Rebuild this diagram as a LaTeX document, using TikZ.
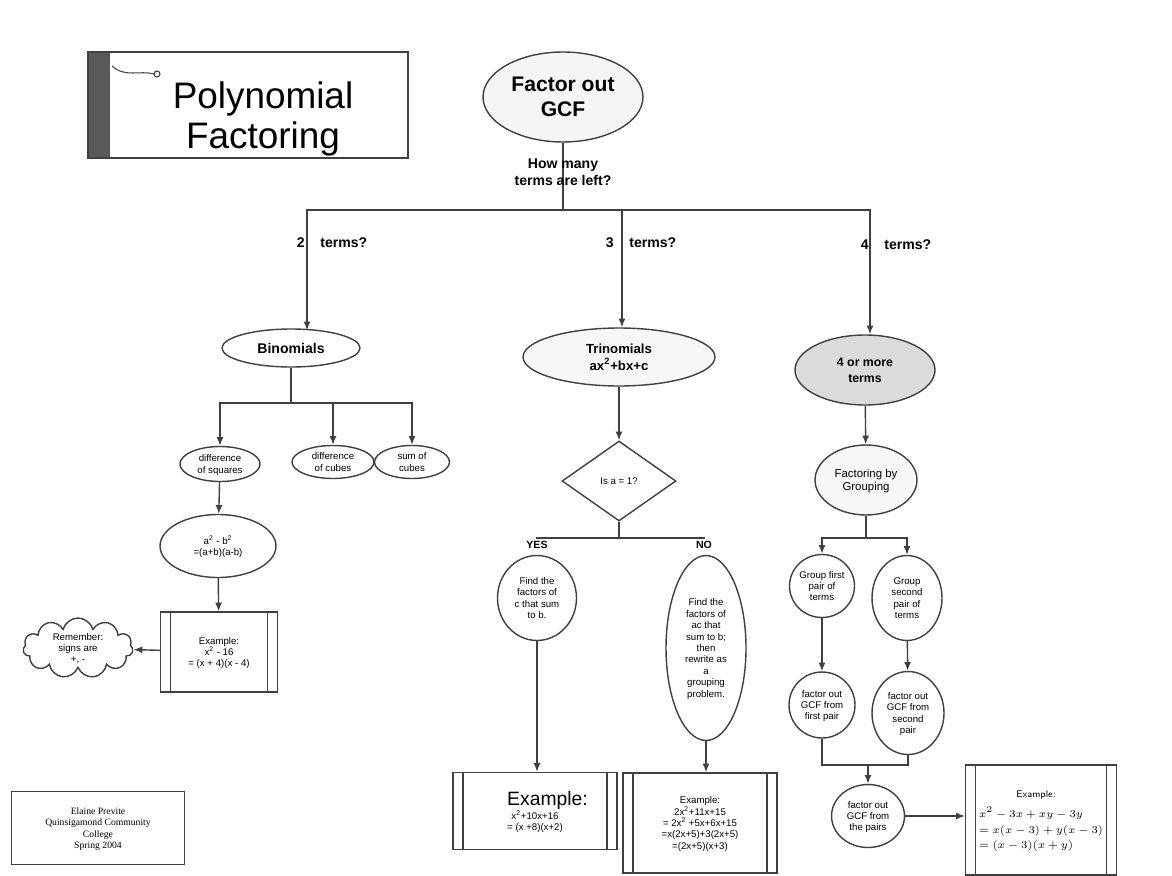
\documentclass[tikz,border=0pt]{standalone}
\usepackage{fontspec}
\setmainfont{Liberation Sans}
\newfontfamily\serifface{Liberation Serif}
\usetikzlibrary{shapes.geometric,shapes.symbols,arrows.meta}

\begin{document}
\begin{tikzpicture}[
            x = 0.02cm, y = -0.02cm,
            every node/.style={text depth=0pt},
            line/.style={draw=black!75, line width = .8pt},
            arrow/.style={line, -{Latex[length=5pt, width=4pt]}},
            flow/.style={draw=black!75, line width = .8pt, inner sep=0pt, align=center},
            oval/.style={flow, ellipse, font=\fontsize{5.5}{6.5}\selectfont},
            bigoval/.style={flow, ellipse, font=\bfseries\fontsize{8}{10}\selectfont},
            procbox/.style={flow, rectangle, font=\fontsize{5.5}{6.5}\selectfont,
                path picture={
                    \draw[black!75, line width=.6pt] ([xshift=.2cm]path picture bounding box.north west) -- ([xshift=.2cm]path picture bounding box.south west);
                    \draw[black!75, line width=.6pt] ([xshift=-.2cm]path picture bounding box.north east) -- ([xshift=-.2cm]path picture bounding box.south east);
                }},
            question/.style={font=\bfseries\fontsize{8}{10}\selectfont, align=center},
            ]

        \useasboundingbox (0, 0) rectangle (1172, 875);

        % title
        \node[flow, rectangle, minimum width=6.4cm, minimum height=2.12cm,
              font=\fontsize{21}{23}\selectfont,
              path picture={\fill[black!65] (path picture bounding box.north west) rectangle ([xshift=.44cm]path picture bounding box.south west);}]
              (title) at (248, 105) {\hspace{.6cm}\begin{tabular}{c}Polynomial\\Factoring\end{tabular}};
        \draw[line, line width=.6pt] (112, 66) .. controls (125, 78) and (140, 70) .. (154, 74);
        \draw[line, line width=.6pt] (157, 74) circle (.06cm);

        % top
        \node[flow, ellipse, minimum width=3.2cm, minimum height=1.8cm, fill=black!4,
              font=\bfseries\fontsize{12}{14}\selectfont] (gcf) at (563, 97) {Factor out\\GCF};
        \coordinate (split) at (563, 210);
        \draw[line] (gcf) -- (split);
        \node[question] (howmany) at (563, 172) {How many\\terms are left?};

        \node[bigoval, minimum width=2.76cm, minimum height=.76cm] (binom) at (291, 348) {Binomials};
        \node[bigoval, minimum width=3.84cm, minimum height=1.16cm, fill=black!3,
              font=\bfseries\fontsize{7.5}{9.5}\selectfont] (trinom) at (619, 357) {Trinomials\\ax\textsuperscript{2}+bx+c};
        \node[bigoval, minimum width=2.8cm, minimum height=1.4cm, fill=black!14,
              font=\bfseries\fontsize{7}{9}\selectfont] (four) at (865, 370) {4 or more\\terms};

        \draw[arrow] (split) -| ([xshift=.32cm, yshift=-.04cm]binom.north);
        \draw[arrow] (split) -| ([xshift=.06cm]trinom.north);
        \draw[arrow] (split) -| ([xshift=.1cm]four.north);

        \node[question] (two) at (332, 243) {2\hspace{9pt}terms?};
        \node[question] (three) at (641, 243) {3\hspace{9pt}terms?};
        \node[question] (fourq) at (896, 245) {4\hspace{9pt}terms?};

        % binomials
        \node[oval, minimum width=1.6cm, minimum height=.7cm] (diffsq) at (220, 464) {difference\\of squares};
        \node[oval, minimum width=1.64cm, minimum height=.66cm] (diffcu) at (333, 462) {difference\\of cubes};
        \node[oval, minimum width=1.5cm, minimum height=.66cm] (sumcu) at (412, 462) {sum of\\cubes};
        \coordinate (bsplit) at (291, 403);
        \draw[line] (binom) -- (bsplit);
        \draw[arrow] (bsplit) -| (diffsq);
        \draw[arrow] (bsplit) -| (diffcu);
        \draw[arrow] (bsplit) -| (sumcu);

        \node[oval, minimum width=2.32cm, minimum height=1.26cm] (absq) at (218, 546) {a\textsuperscript{2} - b\textsuperscript{2}\\=(a+b)(a-b)};
        \node[procbox, minimum width=2.34cm, minimum height=1.6cm] (exsq) at (219, 652) {Example:\\x\textsuperscript{2} - 16\\= (x + 4)(x - 4)};
        \node[flow, cloud, cloud puffs=11, aspect=1.8, minimum width=2.2cm, minimum height=1.2cm,
              font=\fontsize{5.5}{6.5}\selectfont] (remember) at (78, 648) {Remember:\\signs are\\+, -};
        \draw[arrow] (diffsq) -- (absq);
        \draw[arrow] (absq) -- (exsq);
        \draw[arrow] (exsq) -- (remember);

        % trinomials
        \node[flow, diamond, aspect=1.4, minimum width=2.28cm, minimum height=1.6cm,
              font=\fontsize{5.5}{6.5}\selectfont] (isone) at (619, 481) {Is a = 1?};
        \draw[arrow] (trinom) -- (isone);
        \node[font=\bfseries\fontsize{6}{7}\selectfont, inner sep=1pt] (yes) at (537, 545) {YES};
        \node[font=\bfseries\fontsize{6}{7}\selectfont, inner sep=1pt] (no) at (704, 545) {NO};
        \coordinate (tsplit) at (619, 538);
        \draw[line] (isone) -- (tsplit);
        \draw[line] (tsplit) -| (yes.north);
        \draw[line] (tsplit) -| (no.north);

        \node[oval, minimum width=1.58cm, minimum height=1.7cm] (yesfind) at (537, 598) {Find the\\factors of\\c that sum\\to b.};
        \node[oval, minimum width=1.6cm, minimum height=3.7cm] (nofind) at (706, 648) {Find the\\factors of\\ac that\\sum to b;\\then\\rewrite as\\a\\grouping\\problem.};

        \node[procbox, minimum width=3.28cm, minimum height=1.54cm] (exyes) at (535, 811)
              {{\fontsize{11}{11}\selectfont\hspace{.5cm}Example:}\\x\textsuperscript{2}+10x+16\\= (x +8)(x+2)};
        \node[procbox, minimum width=3.08cm, minimum height=2.0cm] (exno) at (700, 823)
              {Example:\\2x\textsuperscript{2}+11x+15\\= 2x\textsuperscript{2} +5x+6x+15\\=x(2x+5)+3(2x+5)\\=(2x+5)(x+3)};
        \draw[arrow] (yesfind.south) -- (yesfind.south |- exyes.north);
        \draw[arrow] (nofind.south) -- (nofind.south |- exno.north);

        % four or more terms
        \node[oval, minimum width=2.04cm, minimum height=1.4cm, fill=black!3,
              font=\fontsize{6.5}{7.5}\selectfont] (grouping) at (866, 480) {Factoring by\\Grouping};
        \draw[arrow] (four) -- (grouping);
        \node[oval, minimum width=1.3cm, minimum height=1.26cm] (gfirst) at (822, 586) {Group first\\pair of\\terms};
        \node[oval, minimum width=1.4cm, minimum height=1.7cm] (gsecond) at (907, 598) {Group\\second\\pair of\\terms};
        \coordinate (gsplit) at (866, 538);
        \draw[line] (grouping) -- (gsplit);
        \draw[arrow] (gsplit) -| (gfirst);
        \draw[arrow] (gsplit) -| (gsecond);

        \node[oval, minimum width=1.32cm, minimum height=1.32cm] (ffirst) at (822, 705) {factor out\\GCF from\\first pair};
        \node[oval, minimum width=1.44cm, minimum height=1.66cm] (fsecond) at (908, 713) {factor out\\GCF from\\second\\pair};
        \draw[arrow] (gfirst) -- (ffirst);
        \draw[arrow] (gsecond) -- (fsecond);

        \node[oval, minimum width=1.46cm, minimum height=1.26cm] (fpairs) at (868, 816) {factor out\\GCF from\\the pairs};
        \coordinate (gjoin) at (868, 765);
        \draw[line] (ffirst.south) |- (gjoin);
        \draw[line] (fsecond.south) |- (gjoin);
        \draw[arrow] (gjoin) -- (fpairs);

        \node[procbox, minimum width=3.02cm, minimum height=2.2cm, align=left,
              font=\serifface\fontsize{6}{9}\selectfont] (exgroup) at (1041, 820)
              {\hspace*{.75cm}{\sffamily\fontsize{5.5}{6.5}\selectfont Example:}\\[2pt]$x^2-3x+xy-3y$\\$=x(x-3)+y(x-3)$\\$=(x-3)(x+y)$};
        \draw[arrow] (fpairs.east) -- (fpairs.east -| exgroup.west);

        % author
        \node[flow, rectangle, minimum width=3.46cm, minimum height=1.46cm,
              font=\serifface\fontsize{5.5}{6.5}\selectfont] (author) at (98, 828)
              {Elaine Previte\\Quinsigamond Community\\College\\Spring 2004};
    \end{tikzpicture}
\end{document}
